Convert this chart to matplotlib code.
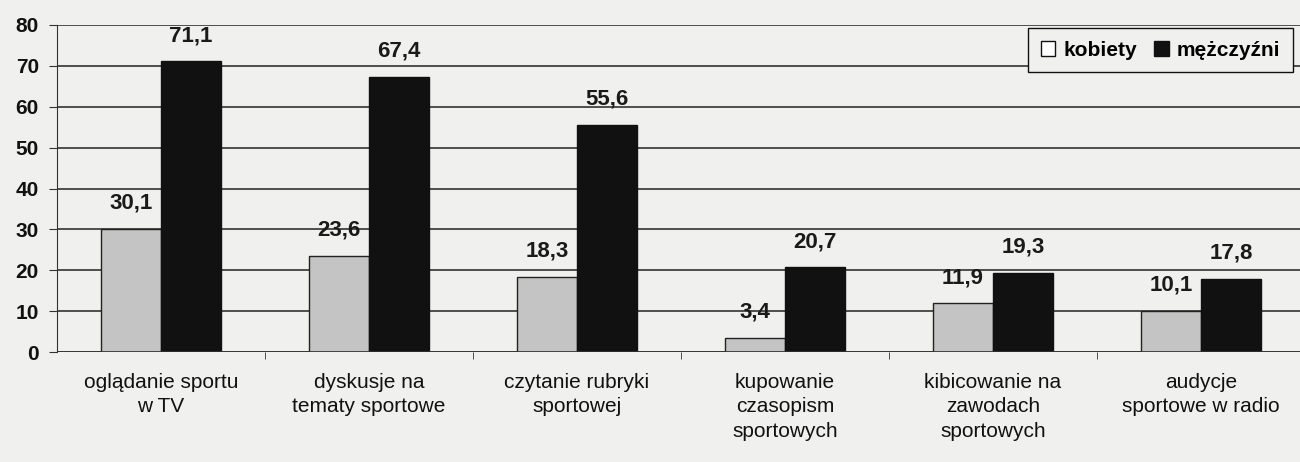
import matplotlib
matplotlib.use('Agg')
import matplotlib.pyplot as plt
import numpy as np
from matplotlib.patches import Patch

# dane
kategorie = [
    'oglądanie sportu\nw TV',
    'dyskusje na\ntematy sportowe',
    'czytanie rubryki\nsportowej',
    'kupowanie\nczasopism\nsportowych',
    'kibicowanie na\nzawodach\nsportowych',
    'audycje\nsportowe w radio',
]
kobiety = [30.1, 23.6, 18.3, 3.4, 11.9, 10.1]
mezczyzni = [71.1, 67.4, 55.6, 20.7, 19.3, 17.8]

plt.rcParams['font.family'] = ['Liberation Sans', 'DejaVu Sans']
BG = '#f0f0ee'

fig = plt.figure(figsize=(13, 4.62), dpi=100, facecolor=BG)
ax = fig.add_axes([57 / 1300, 1 - 352 / 462, 1248 / 1300, 327 / 462])
ax.set_facecolor(BG)

x = np.arange(len(kategorie))
w = 0.29
b1 = ax.bar(x - w / 2, kobiety, w, color='#c4c4c4', edgecolor='#222222', linewidth=1.0,
            label='kobiety', zorder=3)
b2 = ax.bar(x + w / 2, mezczyzni, w, color='#111111', edgecolor='#111111', linewidth=1.0,
            label='mężczyźni', zorder=3)

def etykiety(bars, vals):
    for r, v in zip(bars, vals):
        ax.annotate(f'{v:.1f}'.replace('.', ','), (r.get_x() + r.get_width() / 2, v),
                    xytext=(0, 11), textcoords='offset points', ha='center', va='bottom',
                    fontsize=16, fontweight='bold', color='#1a1a1a', zorder=5)

etykiety(b1, kobiety)
etykiety(b2, mezczyzni)

ax.set_xlim(-0.5, len(kategorie) - 0.5)
ax.set_ylim(0, 80)
ax.set_yticks(range(0, 81, 10))
ax.yaxis.grid(True, color='#222222', linewidth=1.1, zorder=1)
ax.set_axisbelow(True)
for s in ['top', 'right', 'bottom']:
    ax.spines[s].set_visible(False)
ax.spines['left'].set_color('#333333')
ax.axhline(0, color='#333333', linewidth=1.2, zorder=4)

ax.set_xticks(x)
ax.set_xticklabels(kategorie, fontsize=15, color='#111111', linespacing=1.36)
ax.tick_params(axis='x', length=0, pad=15)
ax.set_xticks(np.arange(0.5, len(kategorie) - 0.5, 1), minor=True)
ax.tick_params(axis='x', which='minor', length=5, color='#333333')
ax.tick_params(axis='y', length=6, color='#333333', labelsize=15, pad=7)
for t in ax.get_yticklabels():
    t.set_fontweight('bold')
    t.set_color('#111111')

handles = [Patch(facecolor='white', edgecolor='#111111', label='kobiety'),
           Patch(facecolor='#111111', edgecolor='#111111', label='mężczyźni')]
leg = fig.legend(handles=handles, loc='upper right', ncol=2,
                 bbox_to_anchor=(1293 / 1300, 1 - 28 / 462), bbox_transform=fig.transFigure,
                 borderaxespad=0, frameon=True, fancybox=False, edgecolor='#111111',
                 facecolor=BG, framealpha=1, handlelength=0.7, handleheight=0.7,
                 handletextpad=0.4, columnspacing=0.8, borderpad=0.6,
                 prop={'size': 15, 'weight': 'bold'})
leg.get_frame().set_linewidth(1.0)

fig.savefig('out.png', dpi=100, facecolor=BG)
